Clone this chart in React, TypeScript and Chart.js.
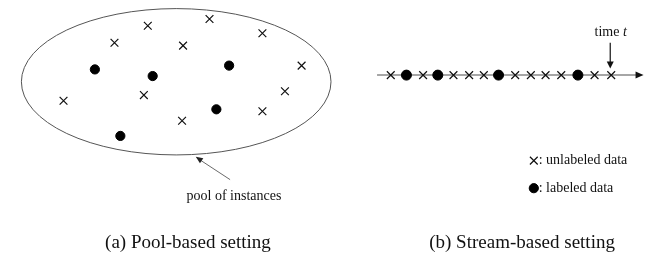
import { useEffect, useRef } from "react";
import { Chart, registerables } from "chart.js";

Chart.register(...registerables);

// Pool-based setting: instance positions (canvas-like units, y downward)
const poolUnlabeledX = [144, 207, 261, 110, 180, 301, 284, 140, 58, 261, 179];
const poolUnlabeledY = [20, 13, 28, 38, 41, 62, 89, 93, 99, 110, 120];
const poolLabeledX = [90, 149, 227, 214, 116];
const poolLabeledY = [66, 73, 62, 108, 136];

// Stream-based setting: sequence of arriving instances
const streamKinds = ["u", "l", "u", "l", "u", "u", "u", "l", "u", "u", "u", "u", "l", "u", "u"];
const streamX = [392, 408, 425, 440, 456, 472, 487, 502, 519, 535, 550, 566, 583, 600, 617];
const streamY = 72;

// Legend marks
const legendX = 538;
const legendUnlabeledY = 162;
const legendLabeledY = 191;

// Texts
const captionA = "(a) Pool-based setting";
const captionB = "(b) Stream-based setting";
const poolLabel = "pool of instances";
const legendUnlabeledText = ": unlabeled data";
const legendLabeledText = ": labeled data";

const SERIF = "'Liberation Serif', 'Times New Roman', serif";

function arrowHead(ctx: CanvasRenderingContext2D, x0: number, y0: number, x1: number, y1: number, len: number, half: number) {
  const a = Math.atan2(y1 - y0, x1 - x0);
  ctx.beginPath();
  ctx.moveTo(x1, y1);
  ctx.lineTo(x1 - len * Math.cos(a) + half * Math.sin(a), y1 - len * Math.sin(a) - half * Math.cos(a));
  ctx.lineTo(x1 - len * Math.cos(a) - half * Math.sin(a), y1 - len * Math.sin(a) + half * Math.cos(a));
  ctx.closePath();
  ctx.fill();
}

const decorPlugin = {
  id: "decor",
  beforeDatasetsDraw(chart: any) {
    const ctx: CanvasRenderingContext2D = chart.ctx;
    const xs = chart.scales.x;
    const ys = chart.scales.y;
    const px = (v: number) => xs.getPixelForValue(v);
    const py = (v: number) => ys.getPixelForValue(v);
    ctx.save();
    // Pool ellipse
    const cx = px(173), cy = py(79);
    const rx = Math.abs(px(331) - px(173));
    const ry = Math.abs(py(156) - py(79));
    ctx.strokeStyle = "#555";
    ctx.lineWidth = 1;
    ctx.beginPath();
    ctx.ellipse(cx, cy, rx, ry, 0, 0, Math.PI * 2);
    ctx.stroke();

    // Pool arrow
    ctx.strokeStyle = "#444";
    ctx.fillStyle = "#222";
    ctx.lineWidth = 0.8;
    ctx.beginPath();
    ctx.moveTo(px(228), py(182));
    ctx.lineTo(px(194), py(159));
    ctx.stroke();
    arrowHead(ctx, px(228), py(182), px(193), py(158), 7, 3);

    // Stream axis
    ctx.strokeStyle = "#888";
    ctx.lineWidth = 1.5;
    ctx.beginPath();
    ctx.moveTo(px(378), py(streamY));
    ctx.lineTo(px(644), py(streamY));
    ctx.stroke();
    ctx.fillStyle = "#111";
    arrowHead(ctx, px(378), py(streamY), px(650), py(streamY), 8, 3.5);

    // Time arrow
    ctx.strokeStyle = "#111";
    ctx.lineWidth = 1.2;
    ctx.beginPath();
    ctx.moveTo(px(616), py(38));
    ctx.lineTo(px(616), py(60));
    ctx.stroke();
    arrowHead(ctx, px(616), py(38), px(616), py(65), 7, 3.5);
    ctx.restore();
  },
  afterDatasetsDraw(chart: any) {
    const ctx: CanvasRenderingContext2D = chart.ctx;
    const xs = chart.scales.x;
    const ys = chart.scales.y;
    const px = (v: number) => xs.getPixelForValue(v);
    const py = (v: number) => ys.getPixelForValue(v);
    ctx.save();
    ctx.fillStyle = "#111";
    ctx.textBaseline = "middle";

    ctx.font = `14px ${SERIF}`;
    ctx.textAlign = "center";
    ctx.fillText(poolLabel, px(232), py(200));

    // time t
    ctx.textAlign = "left";
    const tRegular = "time ";
    const w1 = ctx.measureText(tRegular).width;
    ctx.font = `italic 14px ${SERIF}`;
    const w2 = ctx.measureText("t").width;
    const startX = px(616.5) - (w1 + w2) / 2;
    ctx.font = `14px ${SERIF}`;
    ctx.fillText(tRegular, startX, py(27));
    ctx.font = `italic 14px ${SERIF}`;
    ctx.fillText("t", startX + w1, py(27));

    // legend texts
    ctx.font = `14px ${SERIF}`;
    ctx.fillText(legendUnlabeledText, px(543), py(162));
    ctx.fillText(legendLabeledText, px(543), py(191));

    // captions
    ctx.font = `19px ${SERIF}`;
    ctx.textAlign = "center";
    ctx.fillText(captionA, px(185), py(249));
    ctx.fillText(captionB, px(526), py(249));
    ctx.restore();
  },
};

export default function App() {
  const ref = useRef<HTMLCanvasElement>(null);
  useEffect(() => {
    document.body.style.margin = "0";
    const crossStyle = {
      pointStyle: "crossRot" as const,
      pointRadius: 5.5,
      borderColor: "#111",
      backgroundColor: "#111",
      pointBorderWidth: 1.2,
      showLine: false,
    };
    const dotStyle = {
      pointStyle: "circle" as const,
      pointRadius: 4.6,
      borderColor: "#000",
      backgroundColor: "#000",
      pointBorderWidth: 1,
      showLine: false,
    };
    const streamU = streamX.filter((_, i) => streamKinds[i] === "u").map((x) => ({ x, y: streamY }));
    const streamL = streamX.filter((_, i) => streamKinds[i] === "l").map((x) => ({ x, y: streamY }));
    const chart = new Chart(ref.current!, {
      type: "scatter",
      data: {
        datasets: [
          { label: "unlabeled (pool)", data: poolUnlabeledX.map((x, i) => ({ x, y: poolUnlabeledY[i] })), ...crossStyle },
          { label: "labeled (pool)", data: poolLabeledX.map((x, i) => ({ x, y: poolLabeledY[i] })), ...dotStyle },
          { label: "unlabeled (stream)", data: streamU, ...crossStyle },
          { label: "labeled (stream)", data: streamL, ...dotStyle, pointRadius: 5 },
          { label: "legend unlabeled", data: [{ x: legendX, y: legendUnlabeledY }], ...crossStyle },
          { label: "legend labeled", data: [{ x: legendX, y: legendLabeledY }], ...dotStyle },
        ],
      },
      options: {
        animation: false,
        responsive: false,
        layout: { padding: 0 },
        scales: {
          x: { type: "linear", min: 0, max: 662, display: false },
          y: { type: "linear", min: 0, max: 269, reverse: true, display: false },
        },
        plugins: { legend: { display: false }, tooltip: { enabled: false } },
        events: [],
      },
      plugins: [decorPlugin],
    });
    return () => chart.destroy();
  }, []);
  return <canvas ref={ref} width={662} height={269} style={{ display: "block" }} />;
}
